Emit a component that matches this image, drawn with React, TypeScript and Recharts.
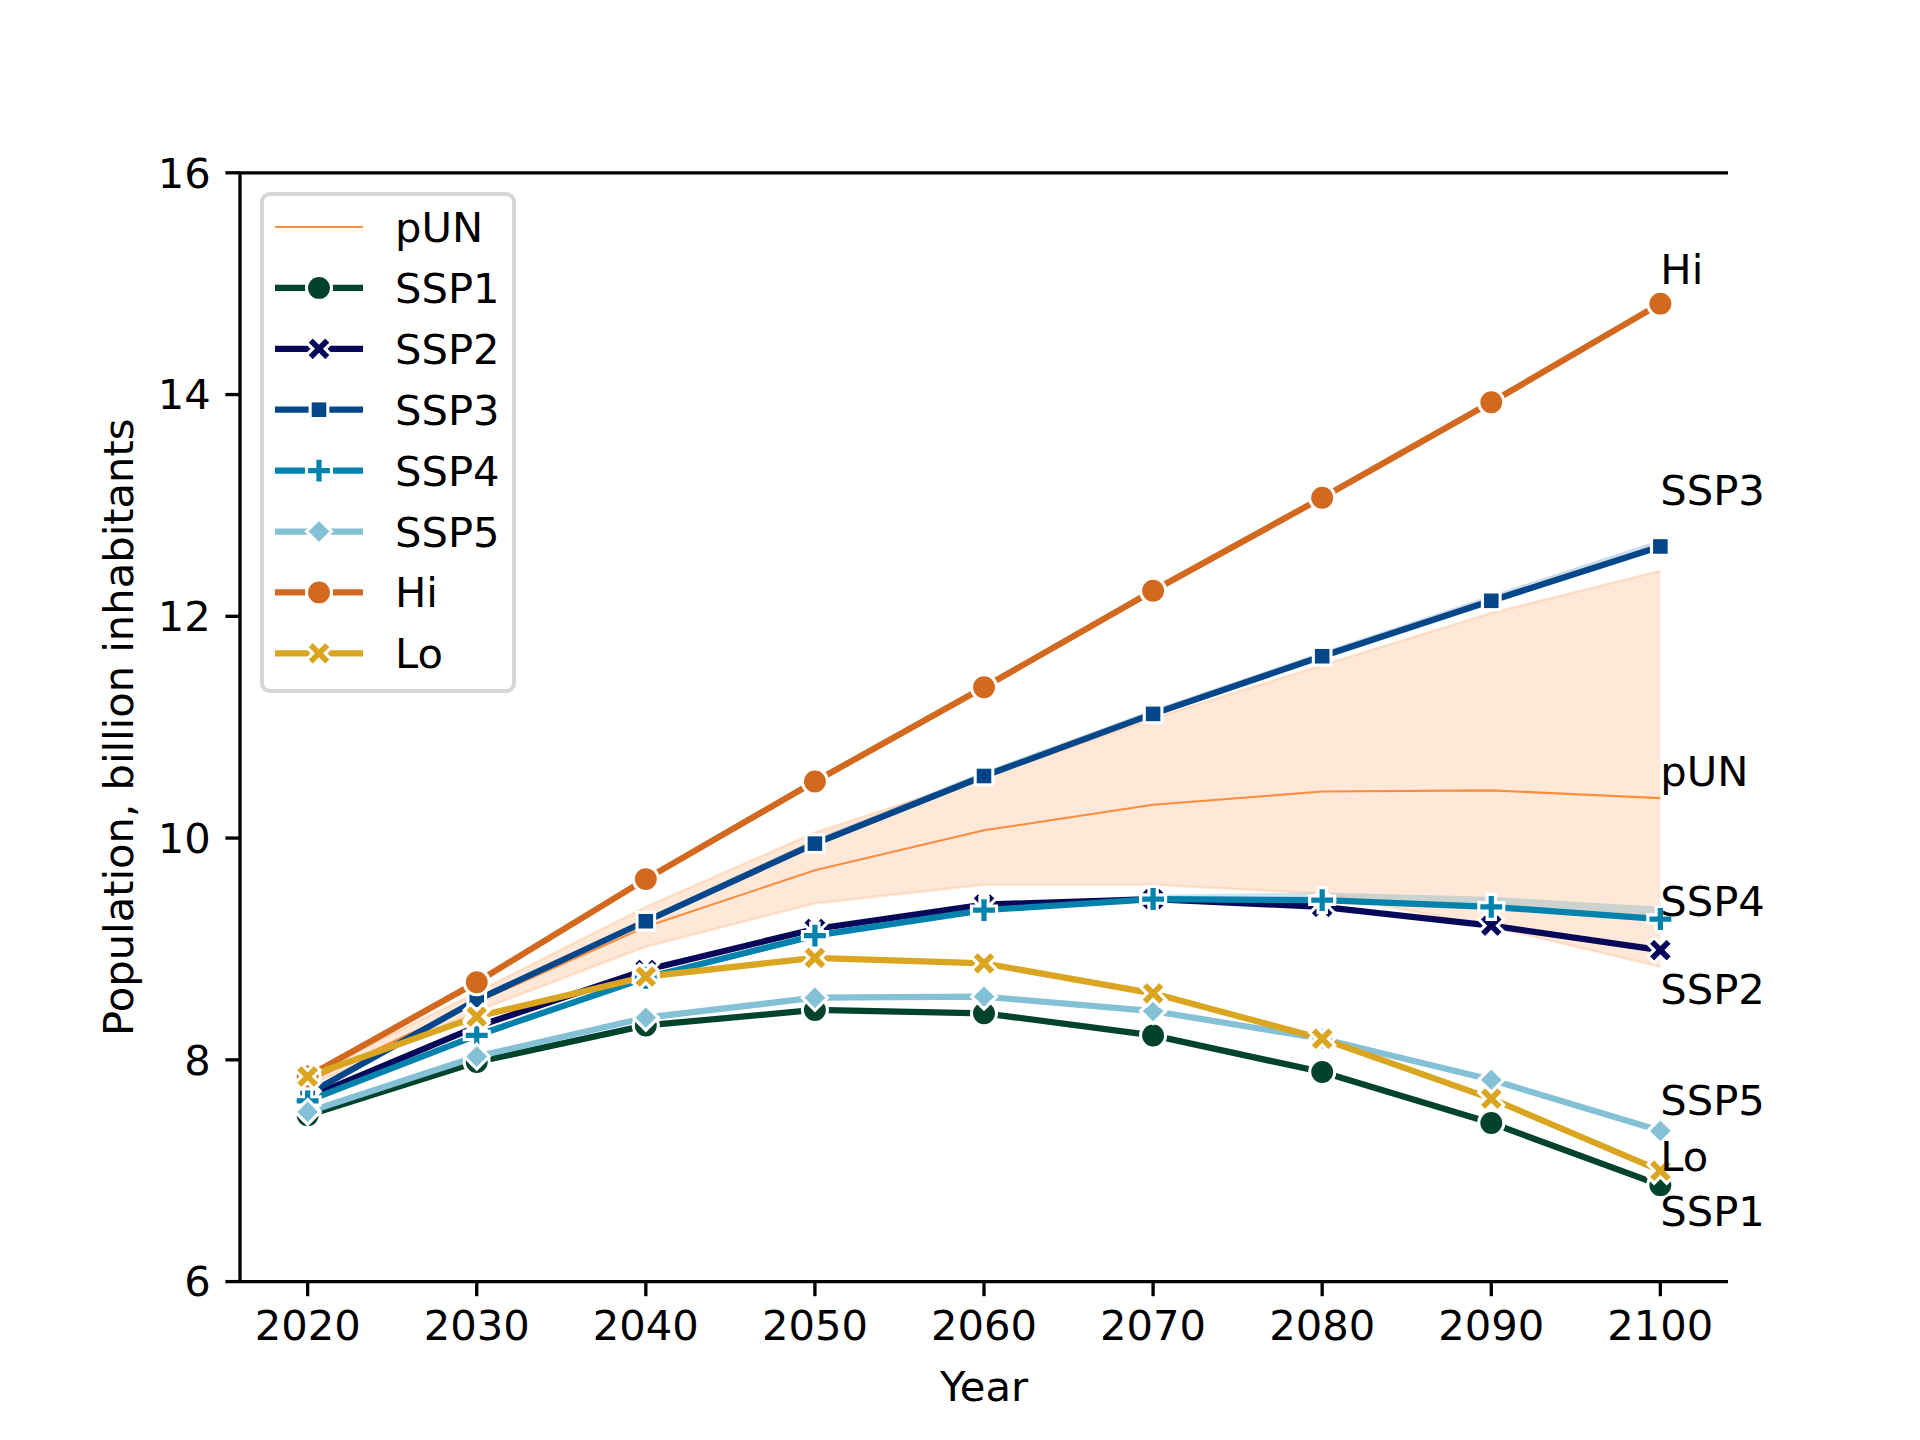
import React from "react";
import {
  Area,
  ComposedChart,
  Line,
  ReferenceDot,
  ReferenceLine,
  XAxis,
  YAxis,
} from "recharts";

// values (billion inhabitants)
const years = [2020, 2030, 2040, 2050, 2060, 2070, 2080, 2090, 2100];
const pun = [7.8, 8.52, 9.2, 9.71, 10.07, 10.3, 10.42, 10.43, 10.36];
const punLow = [7.76, 8.44, 9.02, 9.41, 9.58, 9.58, 9.5, 9.2, 8.84];
const punHigh = [7.86, 8.61, 9.38, 10.05, 10.55, 11.08, 11.56, 12.03, 12.41];
const ssp1 = [7.5, 7.98, 8.31, 8.45, 8.42, 8.22, 7.89, 7.43, 6.87];
const ssp2 = [7.66, 8.3, 8.81, 9.18, 9.4, 9.45, 9.38, 9.21, 8.99];
const ssp3 = [7.69, 8.54, 9.25, 9.95, 10.56, 11.12, 11.64, 12.14, 12.63];
const ssp3Top = [7.7, 8.56, 9.28, 9.99, 10.6, 11.16, 11.68, 12.19, 12.69];
const ssp4 = [7.63, 8.22, 8.74, 9.12, 9.35, 9.45, 9.44, 9.38, 9.27];
const ssp4Top = [7.64, 8.24, 8.76, 9.15, 9.38, 9.49, 9.51, 9.47, 9.38];
const ssp5 = [7.53, 8.03, 8.38, 8.56, 8.57, 8.44, 8.19, 7.82, 7.36];
const hi = [7.85, 8.7, 9.63, 10.51, 11.36, 12.23, 13.07, 13.93, 14.82];
const lo = [7.85, 8.39, 8.75, 8.92, 8.87, 8.6, 8.19, 7.65, 7.0];

const yTicks = [6, 8, 10, 12, 14, 16];
const endLabels = ["Hi", "SSP3", "pUN", "SSP4", "SSP2", "SSP5", "Lo", "SSP1"];
const endLabelY = [15.0, 13.0, 10.47, 9.3, 8.5, 7.5, 7.0, 6.5];

const data = years.map((year, i) => ({
  year,
  pUN: pun[i],
  band: [punLow[i], punHigh[i]],
  ssp3Band: [ssp3[i], ssp3Top[i]],
  ssp4Band: [ssp4[i], ssp4Top[i]],
  SSP1: ssp1[i],
  SSP2: ssp2[i],
  SSP3: ssp3[i],
  SSP4: ssp4[i],
  SSP5: ssp5[i],
  Hi: hi[i],
  Lo: lo[i],
}));

const FONT = "DejaVu Sans";
const FS = 41.67;
const LW = 6.25;
const AX = 3.33;
const PUN_COLOR = "#fd8d3c";

const series = [
  { key: "SSP1", color: "#00432b", marker: "o" },
  { key: "SSP2", color: "#08085a", marker: "X" },
  { key: "SSP3", color: "#03468a", marker: "s" },
  { key: "SSP4", color: "#0082ad", marker: "P" },
  { key: "SSP5", color: "#85c1d6", marker: "D" },
  { key: "Hi", color: "#d2691e", marker: "o" },
  { key: "Lo", color: "#daa520", marker: "X" },
];

const xPoly = [
  [0.25, 0], [0.5, 0.25], [0.75, 0], [1, 0.25], [0.75, 0.5], [1, 0.75],
  [0.75, 1], [0.5, 0.75], [0.25, 1], [0, 0.75], [0.25, 0.5], [0, 0.25],
];
const plusPoly = [
  [1, 0], [2, 0], [2, 1], [3, 1], [3, 2], [2, 2],
  [2, 3], [1, 3], [1, 2], [0, 2], [0, 1], [1, 1],
].map(([a, b]) => [a / 3, b / 3]);

function polyPoints(pts: number[][], cx: number, cy: number, s: number) {
  return pts.map(([a, b]) => `${cx + (a - 0.5) * s},${cy + (b - 0.5) * s}`).join(" ");
}

function Marker({ kind, cx, cy, color }: { kind: string; cx: number; cy: number; color: string }) {
  const s = 25;
  const edge = { stroke: "#fff", strokeWidth: 3.1, strokeLinejoin: "miter" as const };
  if (kind === "o") return <circle cx={cx} cy={cy} r={s / 2} fill={color} {...edge} />;
  if (kind === "s") {
    const h = s / 2 / Math.SQRT2;
    return <rect x={cx - h} y={cy - h} width={2 * h} height={2 * h} fill={color} {...edge} />;
  }
  if (kind === "D") {
    const r = s / 2;
    return (
      <polygon
        points={`${cx},${cy - r} ${cx + r},${cy} ${cx},${cy + r} ${cx - r},${cy}`}
        fill={color}
        {...edge}
      />
    );
  }
  if (kind === "X") return <polygon points={polyPoints(xPoly, cx, cy, s)} fill={color} {...edge} />;
  return <polygon points={polyPoints(plusPoly, cx, cy, s)} fill={color} {...edge} />;
}

const makeDot = (name: string, kind: string, color: string) => (props: any) => {
  const { cx, cy, index } = props;
  if (cx == null || cy == null) return <g key={`${name}-${index}`} />;
  return (
    <g key={`${name}-${index}`}>
      <Marker kind={kind} cx={cx} cy={cy} color={color} />
    </g>
  );
};

function LegendBox() {
  const rowH = 60.9;
  const first = 33;
  const rows = [{ key: "pUN", color: PUN_COLOR, marker: "" }, ...series];
  return (
    <svg
      width={256}
      height={502}
      style={{ position: "absolute", left: 260, top: 192, overflow: "visible" }}
    >
      <rect
        x={2}
        y={2}
        width={252}
        height={497}
        rx={8}
        ry={8}
        fill="#fff"
        fillOpacity={0.8}
        stroke="#d6d6d6"
        strokeWidth={4}
      />
      {rows.map((r, i) => {
        const y = first + 2 + i * rowH;
        return (
          <g key={r.key}>
            {r.marker ? (
              <>
                <line x1={15} x2={103} y1={y} y2={y} stroke={r.color} strokeWidth={LW} />
                <Marker kind={r.marker} cx={59} cy={y} color={r.color} />
              </>
            ) : (
              <line x1={15} x2={103} y1={y} y2={y} stroke={r.color} strokeWidth={2.1} />
            )}
            <text x={135} y={y + 15} fontSize={FS} fontFamily={FONT} fill="#000">
              {r.key}
            </text>
          </g>
        );
      })}
    </svg>
  );
}

export default function App() {
  return (
    <div
      style={{
        position: "absolute",
        left: 0,
        top: 0,
        width: 1920,
        height: 1440,
        background: "#fff",
        fontFamily: FONT,
      }}
    >
      <ComposedChart
        width={1920}
        height={1440}
        data={data}
        margin={{ top: 172.8, right: 192, bottom: 0, left: 0 }}
      >
        <XAxis
          dataKey="year"
          type="number"
          domain={[2016, 2104]}
          ticks={years}
          interval={0}
          height={158.4}
          axisLine={{ stroke: "#000", strokeWidth: AX }}
          tickLine={{ stroke: "#000", strokeWidth: AX }}
          tickSize={14.6}
          tickMargin={14.6}
          tick={{ fontSize: FS, fill: "#000", fontFamily: FONT }}
          label={(p: any) => {
            const vb = p.viewBox;
            return (
              <text
                x={vb.x + vb.width / 2}
                y={vb.y + 119}
                textAnchor="middle"
                fontSize={FS}
                fontFamily={FONT}
                fill="#000"
              >
                Year
              </text>
            );
          }}
        />
        <YAxis
          type="number"
          domain={[6, 16]}
          ticks={yTicks}
          interval={0}
          width={240}
          axisLine={{ stroke: "#000", strokeWidth: AX }}
          tickLine={{ stroke: "#000", strokeWidth: AX }}
          tickSize={14.6}
          tickMargin={14.6}
          tick={{ fontSize: FS, fill: "#000", fontFamily: FONT }}
          label={(p: any) => {
            const vb = p.viewBox;
            const x = vb.x + vb.width - 121;
            const y = vb.y + vb.height / 2;
            return (
              <text
                x={x}
                y={y}
                transform={`rotate(-90, ${x}, ${y})`}
                textAnchor="middle"
                dominantBaseline="central"
                fontSize={FS}
                fontFamily={FONT}
                fill="#000"
              >
                Population, billion inhabitants
              </text>
            );
          }}
        />
        <ReferenceLine y={16} stroke="#000" strokeWidth={AX} ifOverflow="visible" />

        <Area
          dataKey="band"
          type="linear"
          fill={PUN_COLOR}
          fillOpacity={0.2}
          stroke={PUN_COLOR}
          strokeOpacity={0.2}
          strokeWidth={2.5}
          dot={false}
          activeDot={false}
          isAnimationActive={false}
        />
        <Line
          dataKey="pUN"
          type="linear"
          stroke={PUN_COLOR}
          strokeWidth={2.1}
          dot={false}
          activeDot={false}
          isAnimationActive={false}
        />
        <Area
          dataKey="ssp3Band"
          type="linear"
          fill="#03468a"
          fillOpacity={0.2}
          stroke="none"
          dot={false}
          activeDot={false}
          isAnimationActive={false}
        />
        <Area
          dataKey="ssp4Band"
          type="linear"
          fill="#0082ad"
          fillOpacity={0.2}
          stroke="none"
          dot={false}
          activeDot={false}
          isAnimationActive={false}
        />
        {series.map((s) => (
          <Line
            key={s.key}
            dataKey={s.key}
            type="linear"
            stroke={s.color}
            strokeWidth={LW}
            dot={makeDot(s.key, s.marker, s.color)}
            activeDot={false}
            isAnimationActive={false}
          />
        ))}
        {endLabels.map((name, i) => (
          <ReferenceDot
            key={name}
            x={2100}
            y={endLabelY[i]}
            r={0}
            fill="none"
            stroke="none"
            ifOverflow="visible"
            label={(p: any) => {
              const vb = p.viewBox;
              return (
                <text
                  x={vb.x + vb.width}
                  y={vb.y + vb.height / 2}
                  fontSize={FS}
                  fontFamily={FONT}
                  fill="#000"
                >
                  {name}
                </text>
              );
            }}
          />
        ))}
      </ComposedChart>
      <LegendBox />
    </div>
  );
}
